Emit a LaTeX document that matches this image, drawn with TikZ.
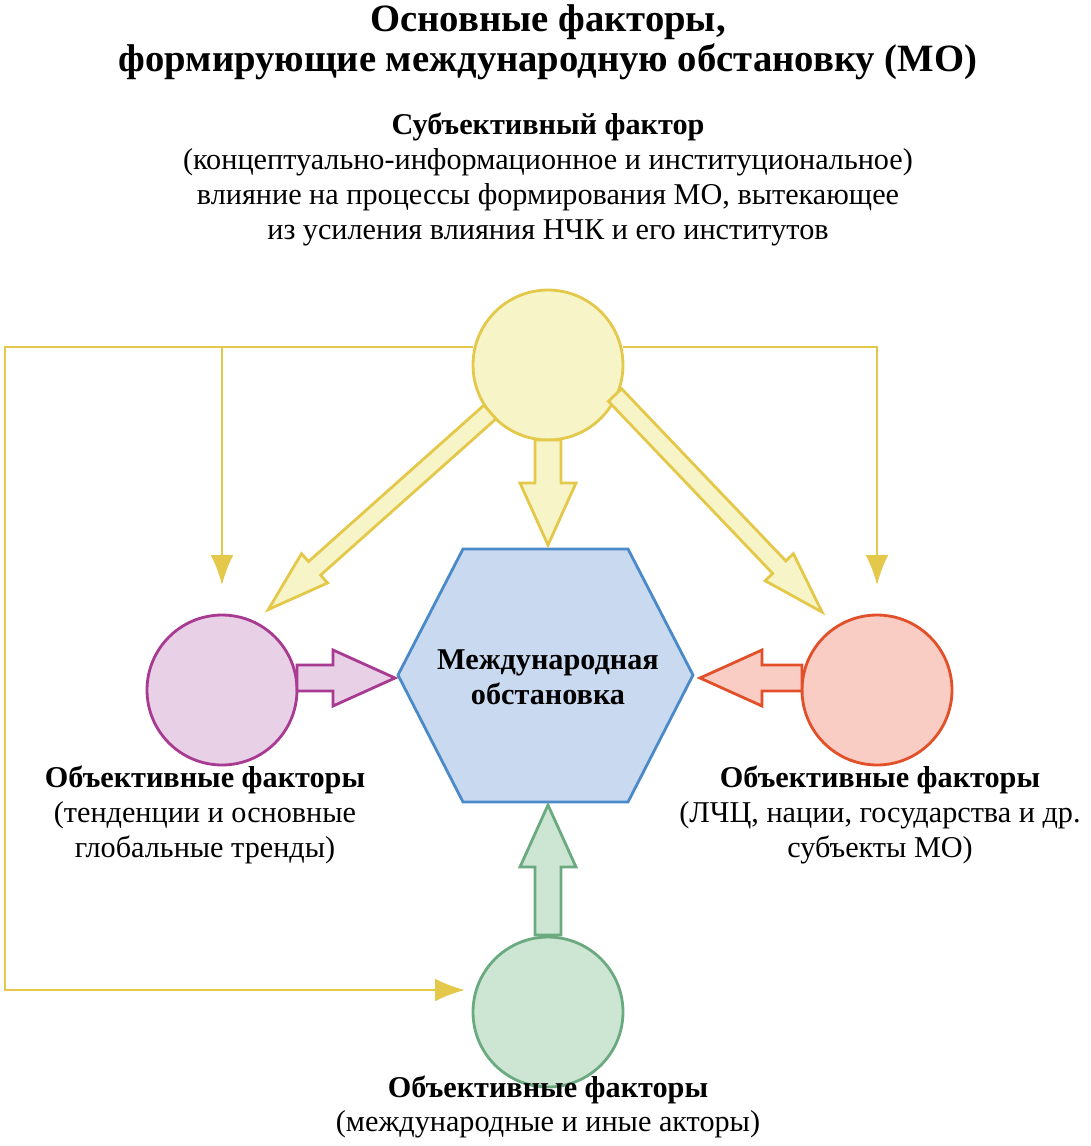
\documentclass[tikz,border=0pt]{standalone}
\usepackage{fontspec}
\setmainfont{Liberation Serif}
\definecolor{sunline}{HTML}{E3C84A}
\definecolor{sunfill}{HTML}{F7F4C8}
\definecolor{plumline}{HTML}{A83A92}
\definecolor{plumfill}{HTML}{E8D0E6}
\definecolor{redline}{HTML}{E2502A}
\definecolor{redfill}{HTML}{F9CCC4}
\definecolor{mintline}{HTML}{6BAA80}
\definecolor{mintfill}{HTML}{CDE5D3}
\definecolor{hexline}{HTML}{4A8AC8}
\definecolor{hexfill}{HTML}{C9D9F0}
\tikzset{
  factor/.style={circle,minimum size=3cm,inner sep=0pt,line width=1.6pt},
  thin/.style={draw=sunline,line width=1.3pt,-{Latex[length=17pt,width=13pt]}},
  body/.style={font=\fontsize{17.2}{19.8}\selectfont,align=center},
}
\usetikzlibrary{arrows.meta}
% fat arrow: start, angle, length, style, extra scope options
\newcommand\fatarrow[5]{%
  \begin{scope}[shift={(#1)},rotate=#2,#5]
    \draw[#4] (0,-13) -- (#3-62,-13) -- (#3-62,-28) -- (#3,0) -- (#3-62,28) -- (#3-62,13) -- (0,13) -- cycle;
  \end{scope}}
\begin{document}
\begin{tikzpicture}[x=0.02cm,y=-0.02cm]
\useasboundingbox (0,0) rectangle (1091,1146);
\pgfmathsetmacro{\cx}{548}
% title
\node[font=\fontsize{22}{23}\selectfont\bfseries,align=center] (title) at (\cx,42)
  {Основные факторы,\\формирующие международную обстановку (МО)};
\node[body,font=\fontsize{17.2}{19.8}\selectfont\bfseries] (subj) at (\cx,127) {Субъективный фактор};
\node[body] (subjtxt) at (\cx,197) {(концептуально-информационное и институциональное)\\
  влияние на процессы формирования МО, вытекающее\\ из усиления влияния НЧК и его институтов};
% thin connectors
\coordinate (tl) at (473,347);
\coordinate (tr) at (623,347);
\draw[thin] (tl) -- (5,347) -- (5,990) -- (465,990);
\draw[thin] (222,347) -- (222,585);
\draw[thin] (tr) -- (877,347) -- (877,585);
% circles and hexagon
\node[factor,draw=sunline,fill=sunfill] (top) at (\cx,365) {};
\node[factor,draw=plumline,fill=plumfill] (left) at (222,690) {};
\node[factor,draw=redline,fill=redfill] (right) at (877,690) {};
\node[factor,draw=mintline,fill=mintfill] (bottom) at (\cx,1012) {};
\draw[draw=hexline,fill=hexfill,line width=1.6pt] (463,549) -- (628,549) -- (693,675) -- (628,802) -- (463,802) -- (398,675) -- cycle;
\node[font=\fontsize{17.2}{19.8}\selectfont\bfseries,align=center] (mo) at (\cx,677) {Международная\\обстановка};
% fat arrows
\fatarrow{548,440}{-90}{105}{draw=sunline,fill=sunfill,line width=1.6pt}{}
\fatarrow{490,412}{-138.3}{297}{draw=sunline,fill=sunfill,line width=1.6pt}{yscale=0.7}
\fatarrow{615,395}{-46.35}{300}{draw=sunline,fill=sunfill,line width=1.6pt}{yscale=0.7}
\fatarrow{297,678}{0}{98}{draw=plumline,fill=plumfill,line width=1.6pt}{}
\fatarrow{802,678}{180}{102}{draw=redline,fill=redfill,line width=1.6pt}{}
\fatarrow{548,935}{90}{130}{draw=mintline,fill=mintfill,line width=1.6pt}{}
% labels
\node[body] (ltxt) at (205,815) {\textbf{Объективные факторы}\\(тенденции и основные\\глобальные тренды)};
\node[body] (rtxt) at (880,815) {\textbf{Объективные факторы}\\(ЛЧЦ, нации, государства и др.\\субъекты МО)};
\node[body] (btxt) at (\cx,1107) {\textbf{Объективные факторы}\\(международные и иные акторы)};
\end{tikzpicture}
\end{document}
